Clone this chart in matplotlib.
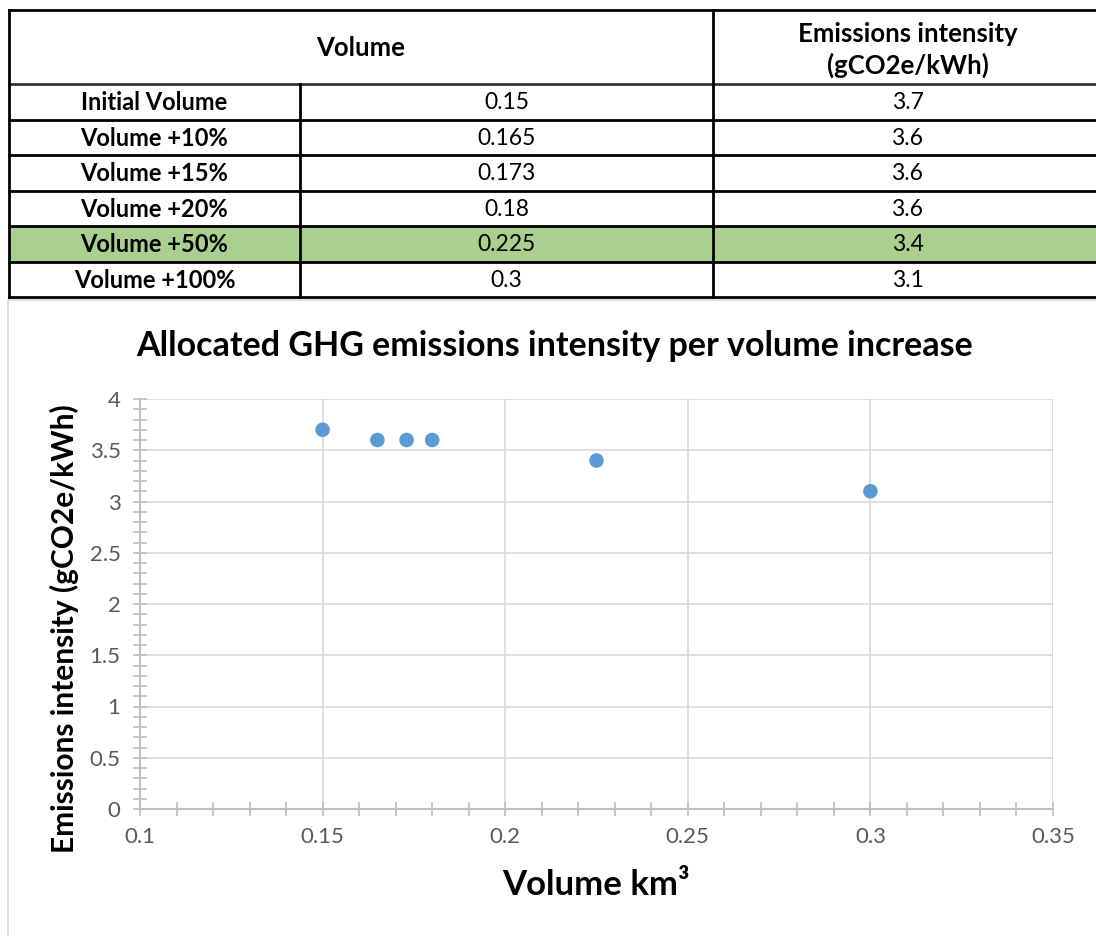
import matplotlib.pyplot as plt
from matplotlib.patches import Rectangle
from matplotlib.ticker import MultipleLocator

row_labels = ['Initial Volume', 'Volume +10%', 'Volume +15%', 'Volume +20%', 'Volume +50%', 'Volume +100%']
volume = [0.15, 0.165, 0.173, 0.18, 0.225, 0.3]
volume_text = ['0.15', '0.165', '0.173', '0.18', '0.225', '0.3']
intensity = [3.7, 3.6, 3.6, 3.6, 3.4, 3.1]
highlight_row = 4

plt.rcParams['font.family'] = ['Lato', 'DejaVu Sans']

W, H = 1096, 936
fig = plt.figure(figsize=(W / 100, H / 100), dpi=100)

# ---- table drawn in pixel-like coords ----
tab = fig.add_axes([0, 0, 1, 1])
tab.set_xlim(0, W)
tab.set_ylim(H, 0)
tab.axis('off')

x_left, x_c1, x_c2, x_right = 9, 300, 713, W + 5
y_top, y_head = 10, 84
row_h = 35.5
fs = 17
fs_head = 18.5

for i, (lab, vt, it) in enumerate(zip(row_labels, volume_text, intensity)):
    y0 = y_head + i * row_h
    if i == highlight_row:
        tab.add_patch(Rectangle((x_left, y0), x_right - x_left, row_h, color='#a9d08e', zorder=0))
    yc = y0 + row_h / 2 + 1
    tab.text((x_left + x_c1) / 2, yc, lab, ha='center', va='center', fontsize=fs, fontweight='bold')
    tab.text((x_c1 + x_c2) / 2, yc, vt, ha='center', va='center', fontsize=16.5)
    tab.text((x_c2 + 1102) / 2, yc, f'{it:.1f}', ha='center', va='center', fontsize=16.5)

y_bot = y_head + len(row_labels) * row_h
tab.text((x_left + x_c2) / 2, (y_top + y_head) / 2 + 1, 'Volume', ha='center', va='center',
         fontsize=fs_head, fontweight='bold')
tab.text((x_c2 + 1102) / 2, (y_top + y_head) / 2 + 3, 'Emissions intensity\n(gCO2e/kWh)', ha='center',
         va='center', fontsize=fs_head, fontweight='bold', linespacing=1.3)

lw = 2
tab.plot([x_left, x_right], [y_top, y_top], color='black', lw=lw)
tab.plot([x_left, x_right], [y_head, y_head], color='#333333', lw=lw)
for i in range(1, len(row_labels) + 1):
    tab.plot([x_left, x_right], [y_head + i * row_h] * 2, color='black', lw=lw)
tab.plot([x_left, x_left], [y_top, y_bot], color='black', lw=lw)
tab.plot([x_c1, x_c1], [y_head, y_bot], color='black', lw=lw)
tab.plot([x_c2, x_c2], [y_top, y_bot], color='black', lw=lw)

# chart border
tab.add_patch(Rectangle((8, 300), W, H, fill=False, edgecolor='#d9d9d9', lw=1.2))

tab.text(555, 346, 'Allocated GHG emissions intensity per volume increase', ha='center', va='center',
         fontsize=24.5, fontweight='bold')

# ---- scatter chart ----
ax = fig.add_axes([140 / W, 1 - 809 / H, 913 / W, 410 / H])
ax.scatter(volume, intensity, s=110, color='#5b9bd5', zorder=3, edgecolors='none')
ax.set_xlim(0.1, 0.35)
ax.set_ylim(0, 4)
ax.xaxis.set_major_locator(MultipleLocator(0.05))
ax.xaxis.set_minor_locator(MultipleLocator(0.01))
ax.yaxis.set_major_locator(MultipleLocator(0.5))
ax.yaxis.set_minor_locator(MultipleLocator(0.1))
ax.set_xticklabels([f'{v:g}' for v in ax.get_xticks()])
ax.set_yticklabels([f'{v:g}' for v in ax.get_yticks()])
ax.grid(True, which='major', color='#d9d9d9', lw=1.2)
ax.set_axisbelow(True)
for s in ['top', 'right']:
    ax.spines[s].set_visible(False)
for s in ['left', 'bottom']:
    ax.spines[s].set_color('#bfbfbf')
    ax.spines[s].set_linewidth(1.5)
ax.tick_params(which='both', direction='inout', color='#bfbfbf', width=1.2, labelcolor='#595959',
               labelsize=16, length=10)
ax.tick_params(axis='x', pad=8)
ax.tick_params(axis='y', pad=9)

ax.set_xlabel('Volume km³', fontsize=25, fontweight='bold', va='center')
ax.xaxis.set_label_coords(0.5, -0.185)
ax.set_ylabel('Emissions intensity (gCO2e/kWh)', fontsize=21.5, fontweight='bold', va='center')
ax.yaxis.set_label_coords(-0.083, 0.44)

fig.savefig('out.png', dpi=100)
